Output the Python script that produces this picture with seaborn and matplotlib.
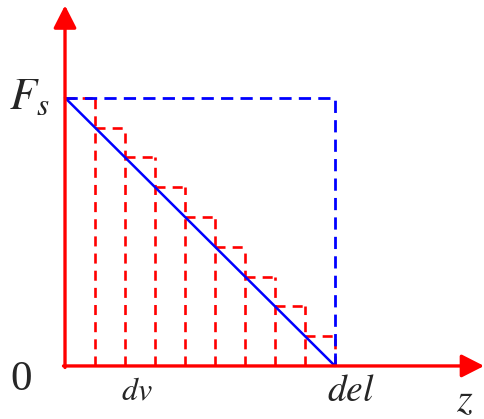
import matplotlib
matplotlib.use("Agg")
import matplotlib.pyplot as plt
import seaborn as sns
import pandas as pd

sns.set_theme(style="white")
plt.rcParams["mathtext.fontset"] = "stix"
plt.rcParams["font.family"] = ["Liberation Serif", "DejaVu Serif"]

# Linear force profile F(z) from Fs at z=0 down to 0 at z=del,
# approximated by a staircase of dv-wide slices.
F_s = 9.0
z_del = 9.0
slice_left = [0, 1, 2, 3, 4, 5, 6, 7, 8]
slice_height = [9, 8, 7, 6, 5, 4, 3, 2, 1]
line_z = [0.0, z_del]
line_F = [F_s, 0.0]
rect_z = [0.0, z_del, z_del]
rect_F = [F_s, F_s, 0.0]

fig = plt.figure(figsize=(4.85, 4.19), dpi=100)
ax = fig.add_axes([0, 0, 1, 1])
ax.set_xlim(-2.167, 14.0)
ax.set_ylim(-1.78, 12.28)
ax.axis("off")

# staircase slices (dashed red outlines): top of each slice and its right side
red_dash = dict(colors="#ff0000", linewidth=1.9, linestyles=[(0, (3.8, 2.7))], zorder=2)
slice_right = [z + 1 for z in slice_left]
ax.hlines(slice_height, slice_left, slice_right, **red_dash)
ax.vlines(slice_right, [0] * len(slice_right), slice_height, **red_dash)

# bounding rectangle of the constant-force case
rect = pd.DataFrame({"z": rect_z, "F": rect_F})
sns.lineplot(data=rect, x="z", y="F", sort=False, estimator=None,
             color="#0000ff", linewidth=2.0, linestyle=(0, (4.4, 2.6)),
             ax=ax, zorder=3)

# linear profile
prof = pd.DataFrame({"z": line_z, "F": line_F})
sns.lineplot(data=prof, x="z", y="F", estimator=None, color="#0000ff",
             linewidth=1.8, ax=ax, zorder=4)

# axes with arrowheads
arrow = dict(arrowstyle="-|>,head_length=0.55,head_width=0.28", color="#ff0000",
             lw=2.4, mutation_scale=25, shrinkA=0, shrinkB=0)
ax.annotate("", xy=(13.97, 0), xytext=(-0.05, 0), arrowprops=arrow, zorder=5)
ax.annotate("", xy=(0, 12.1), xytext=(0, -0.05), arrowprops=arrow, zorder=5)

# labels
ax.text(-1.2, F_s, r"$F_s$", fontsize=32, ha="center", va="center")
ax.text(-1.45, -0.45, "0", fontsize=31, ha="center", va="center")
ax.text(2.4, -0.88, r"$dv$", fontsize=23, ha="center", va="center")
ax.text(9.53, -0.85, r"$del$", fontsize=27, ha="center", va="center")
ax.text(13.33, -1.5, r"$z$", fontsize=29, ha="center", va="baseline")

fig.savefig("out.png", dpi=100)
